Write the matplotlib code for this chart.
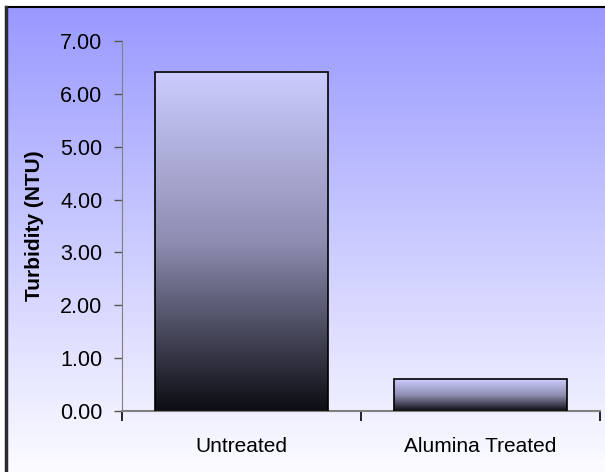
import numpy as np
import matplotlib.pyplot as plt
from matplotlib.colors import LinearSegmentedColormap
from matplotlib.lines import Line2D

# data
categories = ["Untreated", "Alumina Treated"]
turbidity = [6.42, 0.60]
y_ticks = [0, 1, 2, 3, 4, 5, 6, 7]

plt.rcParams['font.family'] = ['Liberation Sans', 'DejaVu Sans']
plt.rcParams['font.size'] = 15

W, H = 605, 472
fig = plt.figure(figsize=(W / 100, H / 100), dpi=100)
fig.patch.set_facecolor('white')

# background panel with blue -> white gradient, runs off the right/bottom edge
bg = fig.add_axes([6 / W, 0, 1 - 6 / W, 1 - 7 / H], zorder=0)
bg_cmap = LinearSegmentedColormap.from_list('bg', ['#9999ff', '#fcfcff'])
bg.imshow(np.linspace(0, 1, 256).reshape(-1, 1), aspect='auto', cmap=bg_cmap,
          extent=[0, 1, 0, 1], origin='upper')
bg.set_axis_off()

# frame edges (top and left only, the rest is cut off)
fig.add_artist(Line2D([6 / W, 1], [1 - 7 / H] * 2, color='black', lw=1.5))
fig.add_artist(Line2D([6 / W] * 2, [0, 1 - 7 / H], color='#2a2a33', lw=2.5))

ax = fig.add_axes([122 / W, 1 - 411 / H, (600 - 122) / W, (411 - 41) / H], zorder=1)
ax.set_facecolor('none')

x = np.arange(len(categories))
bars = ax.bar(x, turbidity, width=0.72, facecolor='none', edgecolor='black',
              linewidth=1.2, zorder=3)

bar_cmap = LinearSegmentedColormap.from_list(
    'bar', [(0, '#ccccff'), (0.5, '#8e8eb2'), (1, '#0c0c12')])
grad = np.linspace(0, 1, 256).reshape(-1, 1)
for b in bars:
    x0, w, h = b.get_x(), b.get_width(), b.get_height()
    ax.imshow(grad, aspect='auto', cmap=bar_cmap, origin='upper',
              extent=[x0, x0 + w, 0, h], zorder=2)

ax.set_xlim(-0.5, 1.5)
ax.set_ylim(0, 7)
ax.set_yticks(y_ticks)
ax.set_yticklabels([f"{v:.2f}" for v in y_ticks], fontsize=15.5)
ax.set_xticks(x)
ax.set_xticklabels(categories)
ax.set_xticks([-0.5, 0.5, 1.5], minor=True)
ax.tick_params(axis='x', which='major', length=0, pad=19)
ax.tick_params(axis='x', which='minor', length=7, width=1.2, color='black')
ax.tick_params(axis='y', length=6, width=1, color='#555555', pad=8)

for side in ['top', 'right']:
    ax.spines[side].set_visible(False)
ax.spines['left'].set_color('#808080')
ax.spines['bottom'].set_color('#808080')
ax.spines['bottom'].set_linewidth(1.5)

ax.set_ylabel('Turbidity (NTU)', fontweight='bold', labelpad=12)

fig.savefig('out.png', dpi=100)
